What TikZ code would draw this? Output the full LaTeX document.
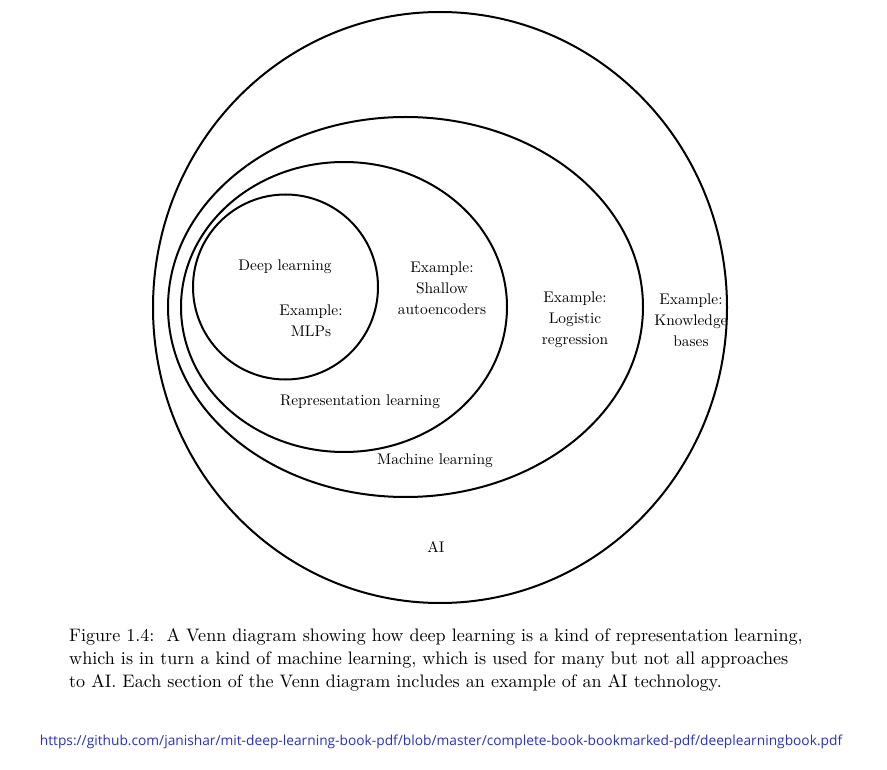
\documentclass[tikz,border=0pt]{standalone}
\usepackage{fontspec}
\setmainfont{lmroman10-regular}[Extension=.otf]
\newfontfamily\urlfont{Open Sans}
\definecolor{urlblue}{RGB}{40,50,190}
\tikzset{
  venn/.style={draw=black, line width=2pt},
  lbl/.style={align=center, inner sep=0pt, font=\fontsize{15.4}{20.8}\selectfont},
  capt/.style={align=left, inner sep=0pt, anchor=west, font=\fontsize{18.1}{23}\selectfont},
  urltext/.style={inner sep=0pt, text=urlblue, font=\urlfont\fontsize{13.75}{16}\selectfont}
}
\begin{document}
\begin{tikzpicture}[x=1pt, y=-1pt]
\useasboundingbox[fill=white] (0,0) rectangle (887,770);
% circles / ellipses
\draw[venn] (440,307.5) ellipse [x radius=287pt, y radius=295.5pt];
\draw[venn] (405.5,307) ellipse [x radius=237.5pt, y radius=190pt];
\draw[venn] (344,307) ellipse [x radius=163pt, y radius=145pt];
\draw[venn] (285.5,287) circle [radius=92.5pt];
% labels
\node[lbl] (dl) at (285,267) {Deep learning};
\node[lbl] (mlp) at (311,320.5) {Example:\\MLPs};
\node[lbl] (sha) at (442,288) {Example:\\Shallow\\autoencoders};
\node[lbl] (log) at (575,320) {Example:\\Logistic\\regression};
\node[lbl] (kb) at (691,320) {Example:\\Knowledge\\bases};
\node[lbl] (rl) at (360,402) {Representation learning};
\node[lbl] (ml) at (435,461) {Machine learning};
\node[lbl] (ai) at (436,547) {AI};
% caption
\node[capt] (cap) at (69,660) {Figure 1.4:\ \ A Venn diagram showing how deep learning is a kind of representation learning,\\
which is in turn a kind of machine learning, which is used for many but not all approaches\\
to AI. Each section of the Venn diagram includes an example of an AI technology.};
\node[urltext] (url) at (441,742) {https://github.com/janishar/mit-deep-learning-book-pdf/blob/master/complete-book-bookmarked-pdf/deeplearningbook.pdf};
\end{tikzpicture}
\end{document}
